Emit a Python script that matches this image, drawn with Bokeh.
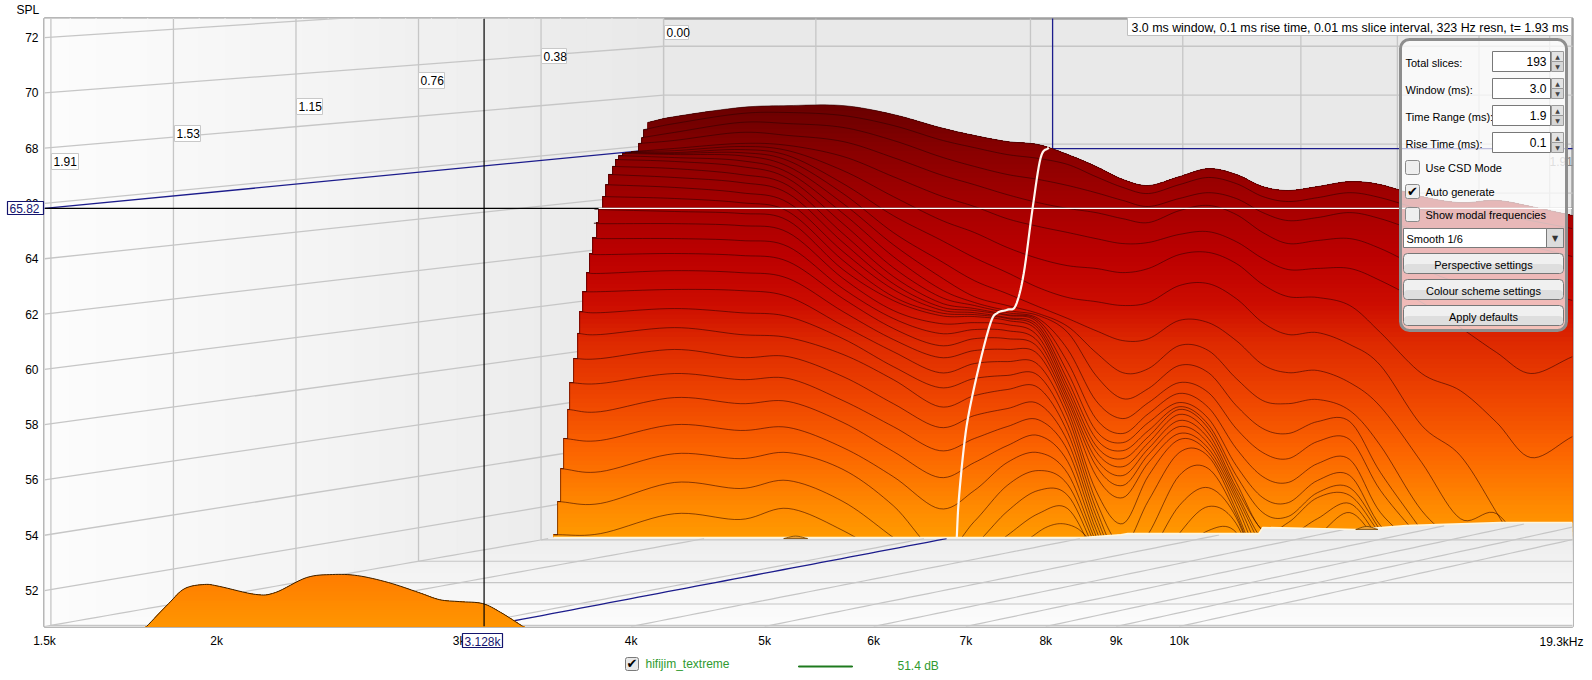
from bokeh.embed import file_html
from bokeh.layouts import column
from bokeh.models import BoxAnnotation, FixedTicker, Label, Range1d
from bokeh.plotting import figure
from bokeh.resources import INLINE
import numpy as np

# chart axes
hz_start, hz_end = 1500, 19300
db_floor, db_top = 50.70, 72.69
x_ticks = [1500, 2000, 3000, 4000, 5000, 6000, 7000, 8000, 9000, 10000]
x_tick_labels = ["1.5k", "2k", "3k", "4k", "5k", "6k", "7k", "8k", "9k", "10k"]
y_ticks = [52, 54, 56, 58, 60, 62, 64, 66, 68, 70, 72]
time_ticks = [0.00, 0.382, 0.764, 1.146, 1.528, 1.91]
t_front = 1.93
cursor_hz, cursor_db = 3128, 65.82

# slices. None where the slice has no visible line
slice_hz = [3800, 4300, 4800, 5200, 5700, 6200, 6700, 7100, 7500, 7900, 8300, 8700, 9100, 9500, 10000,
            10500, 11000, 11500, 12000, 12600, 13300, 14000, 15000, 16000, 17000, 18000, 19300]
slice_start_hz = [4112, 4084, 4071, 4050, 4030, 4003, 3983, 3963, 3943, 3917, 3897, 3878, 3852, 3833, 3814,
                  3788, 3776, 3751, 3731, 3713, 3689, 3670, 3658, 3633, 3609, 3597, 3573, 3555, 3537, 3514]
slice_start_db = [68.93, 68.67, 68.38, 68.17, 67.88, 67.88, 67.84, 67.84, 67.81, 67.73, 67.59, 67.34, 67.05, 66.68, 66.25,
                  65.82, 65.31, 64.77, 64.19, 63.50, 62.81, 62.09, 61.30, 60.39, 59.52, 58.55, 57.50, 56.41, 55.22, 54.02]
slice_01 = [None, 69.14, 69.47, 69.54, 69.54, 69.22, 68.75, 68.46, 68.24, 68.13, 67.77, 67.34, 66.87, 66.65, 66.97, 67.26, 67.05, 66.61, 66.47, 66.61, 66.79, 66.68, 66.25, 66.03, 66.11, 65.89, 65.56]
slice_02 = [None, 68.89, 69.25, 69.29, 69.18, 68.82, 68.31, 68.02, 67.77, 67.63, 67.41, 66.97, 66.58, 66.36, 66.68, 66.94, 66.72, 66.25, 66.07, 66.21, 66.39, 66.21, 65.78, 65.53, 65.60, 65.38, 65.09]
slice_03 = [None, 68.57, 68.93, 68.89, 68.75, 68.28, 67.70, 67.34, 67.05, 66.87, 66.65, 66.39, 66.11, 65.89, 66.18, 66.39, 66.18, 65.67, 65.38, 65.49, 65.67, 65.45, 64.95, 64.59, 64.66, 64.44, 64.08]
slice_04 = [None, 68.28, 68.57, 68.46, 68.24, 67.66, 67.05, 66.68, 66.32, 66.03, 65.82, 65.67, 65.45, 65.31, 65.74, 65.93, 65.60, 64.95, 64.55, 64.66, 64.73, 64.37, 63.65, 63.14, 63.14, 62.92, 62.49]
slice_05 = [None, 67.99, 68.17, 68.10, 67.70, 66.97, 66.29, 65.89, 65.45, 65.17, 64.95, 64.73, 64.55, 64.59, 64.88, 64.98, 64.62, 64.01, 63.61, 63.65, 63.65, 63.21, 62.42, 61.51, 60.61, 59.85, 60.46]
slice_06 = [None, 67.91, 68.06, 67.91, 67.19, 66.25, 65.42, 64.95, 64.41, 64.01, 63.75, 63.65, 63.50, 63.65, 64.15, 64.23, 63.83, 63.07, 62.63, 62.60, 62.31, 61.33, 59.85, 59.23, 58.08, 56.81, 57.57]
slice_07 = [None, 67.84, 67.95, 67.73, 66.72, 65.56, 64.70, 64.04, 63.50, 62.96, 62.60, 62.45, 62.31, 62.42, 63.03, 63.10, 62.56, 61.69, 61.26, 61.33, 60.90, 60.14, 57.97, 56.88, 54.82, 52.72, None]
slice_08 = [None, 67.81, 67.84, 67.55, 66.36, 64.95, 63.94, 63.21, 62.74, 62.27, 61.84, 61.40, 61.04, 61.11, 61.77, 61.69, 61.04, 60.17, 59.88, 59.96, 59.52, 58.65, 56.63, 54.60, 54.78, 53.08, None]
slice_09 = [None, 67.77, 67.73, 67.34, 66.00, 64.51, 63.36, 62.63, 62.31, 62.02, 61.55, 60.61, 59.88, 60.03, 60.86, 60.68, 59.67, 58.87, 58.76, 58.91, 58.51, 57.24, 54.89, 53.63, None, None, None]
slice_10 = [None, 67.66, 67.55, 67.12, 65.64, 64.08, 62.92, 62.42, 62.13, 61.95, 61.33, 59.78, 58.94, 59.31, 60.14, 59.88, 58.69, 57.86, 57.68, 58.11, 58.11, 56.27, 54.17, None, None, None, None]
slice_11 = [None, 67.52, 67.34, 66.90, 65.27, 63.68, 62.63, 62.31, 62.05, 61.84, 60.72, 58.87, 58.22, 58.80, 59.52, 59.16, 57.86, 56.99, 56.77, 57.39, 57.46, 55.62, 53.81, None, None, None, None]
slice_12 = [None, 67.26, 67.05, 66.65, 64.91, 63.36, 62.42, 62.20, 61.98, 61.77, 60.25, 58.22, 57.68, 58.40, 59.13, 58.62, 57.14, 56.12, 55.91, 56.59, 56.74, 54.82, 53.45, None, None, None, None]
slice_13 = [None, 66.94, 66.76, 66.36, 64.59, 63.10, 62.27, 62.13, 61.95, 61.69, 59.88, 57.79, 57.35, 58.08, 58.80, 58.22, 56.52, 55.36, 55.18, 55.98, 56.16, 54.35, 53.08, None, None, None, None]
slice_14 = [None, 66.58, 66.39, 66.03, 64.26, 62.89, 62.16, 62.05, 61.87, 61.58, 59.60, 57.50, 57.06, 57.79, 58.65, 58.00, 56.16, 54.82, 54.68, 55.54, 55.72, 54.17, None, None, None, None, None]
slice_15 = [None, 66.18, 66.03, 65.71, 63.94, 62.63, 62.05, 61.98, 61.84, 61.48, 59.38, 57.24, 56.77, 57.57, 58.55, 57.86, 55.91, 54.17, 54.46, 55.36, 55.44, 54.03, None, None, None, None, None]
slice_16 = [65.78, 65.71, 65.64, 65.38, 63.61, 62.49, 61.95, 61.91, 61.77, 61.37, 59.20, 57.03, 56.48, 57.35, 58.37, 57.68, 55.72, 54.17, 53.99, 54.60, 55.15, 53.81, None, None, None, None, None]
slice_17 = [65.27, 65.27, 65.20, 64.95, 63.29, 62.13, 61.66, 61.69, 61.62, 61.19, 59.02, 56.77, 56.16, 57.14, 58.15, 57.50, 55.58, 53.81, 53.45, 53.99, 54.82, 53.63, None, None, None, None, None]
slice_18 = [64.73, 64.73, 64.66, 64.44, 62.92, 61.84, 61.30, 61.44, 61.40, 61.00, 58.87, 56.52, 55.80, 56.92, 57.93, 57.32, 55.44, 53.45, None, None, None, None, None, None, None, None, None]
slice_19 = [64.15, 64.19, 64.12, 63.90, 62.56, 61.48, 60.86, 61.11, 61.11, 60.79, 58.69, 56.16, 55.36, 56.63, 57.68, 57.14, 55.29, 53.08, None, None, None, None, None, None, None, None, None]
slice_20 = [63.47, 63.57, 63.50, 63.29, 62.09, 61.08, 60.43, 60.68, 60.72, 60.54, 58.51, 55.62, 54.42, 56.16, 57.46, 56.99, 55.11, 52.72, None, None, None, None, None, None, None, None, None]
slice_21 = [62.81, 62.89, 62.85, 62.63, 61.58, 60.64, 59.88, 60.21, 60.28, 60.17, 58.29, 55.26, 53.63, 55.26, 56.99, 56.85, 54.89, 52.36, None, None, None, None, None, None, None, None, None]
slice_22 = [62.05, 62.20, 62.05, 61.91, 61.11, 60.10, 59.34, 59.67, 59.78, 59.78, 58.00, 54.97, 53.01, 54.06, 56.16, 56.41, 54.75, 52.18, None, None, None, None, None, None, None, None, None]
slice_23 = [61.26, 61.51, 61.26, 61.15, 60.54, 59.63, 58.65, 59.05, 59.27, 59.34, 57.71, 54.71, 52.72, 53.27, 55.07, 55.72, 54.64, 52.00, None, None, None, None, None, None, None, None, None]
slice_24 = [60.39, 60.72, 60.43, 60.46, 59.74, 58.76, 57.90, 58.33, 58.58, 58.76, 57.39, 54.46, 52.43, 52.36, 54.06, 55.04, 54.42, 52.00, None, None, None, None, None, None, None, None, None]
slice_25 = [59.49, 59.85, 59.63, 59.67, 58.87, 57.93, 57.06, 57.50, 57.93, 58.18, 57.06, 54.21, 52.18, 51.64, 53.27, 54.17, 54.10, 52.00, None, None, None, None, None, None, None, None, None]
slice_26 = [58.47, 58.98, 58.76, 58.84, 58.08, 57.03, 56.09, 56.63, 57.24, 57.61, 56.66, 53.99, 52.00, None, None, None, None, None, None, None, None, None, None, None, None, None, None]
slice_27 = [57.43, 58.00, 57.79, 57.90, 57.17, 56.12, 54.96, 55.62, 56.63, 56.99, 56.23, 53.77, 51.82, None, None, None, None, None, None, None, None, None, None, None, None, None, None]
slice_28 = [56.30, 56.95, 56.77, 56.99, 56.38, 55.07, 53.34, 54.50, 55.80, 56.34, 55.83, 53.59, 51.64, None, None, None, None, None, None, None, None, None, None, None, None, None, None]
slice_29 = [55.15, 55.91, 55.69, 55.98, 55.22, 53.92, 52.72, 53.63, 54.86, 55.62, 55.44, 53.37, 51.46, None, None, None, None, None, None, None, None, None, None, None, None, None, None]
slice_30 = [54.06, 54.78, 54.57, 54.97, 54.17, 53.08, 52.18, 53.08, 53.99, 54.78, 54.96, 53.16, 51.28, None, None, None, None, None, None, None, None, None, None, None, None, None, None]
all_slices = [slice_01, slice_02, slice_03, slice_04, slice_05, slice_06, slice_07, slice_08, slice_09, slice_10,
              slice_11, slice_12, slice_13, slice_14, slice_15, slice_16, slice_17, slice_18, slice_19, slice_20,
              slice_21, slice_22, slice_23, slice_24, slice_25, slice_26, slice_27, slice_28, slice_29, slice_30]

# small humps of the next slice poking out of the floor
bump_1_hz, bump_1_db = [5162, 5266, 5373], [53.88, 53.97, 53.88]
bump_2_hz, bump_2_db = [7802, 8000, 8203, 8412, 8582], [53.92, 54.28, 54.42, 54.28, 53.92]
bump_3_hz, bump_3_db = [13433, 13684, 13939], [54.21, 54.32, 54.21]

# where the waterfall meets the floor
base_hz = [3514, 8524, 8700, 9070, 9176, 11424, 11500, 13433, 14630, 17120, 19300]
base_db = [53.92, 53.92, 53.95, 54.02, 54.06, 54.06, 54.28, 54.21, 54.35, 54.46, 54.46]

# the last slice, in front
front_hz = [1776, 1846, 1896, 1960, 2010, 2135, 2207, 2325, 2428, 2532, 2666, 2804, 2904, 3003, 3120, 3216, 3348]
front_db = [50.66, 51.53, 52.07, 52.22, 52.15, 51.86, 51.93, 52.47, 52.58, 52.54, 52.29, 51.93, 51.67, 51.60, 51.53, 51.21, 50.66]

# white trace of the cursor frequency through the slices
trace_hz = [8040, 7933, 7827, 7711, 7608, 7507, 7383, 7296, 7152, 7034, 6976, 6917, 6894]
trace_db = [68.02, 67.66, 65.85, 63.47, 62.31, 62.16, 62.05, 61.69, 60.07, 58.40, 57.17, 55.26, 53.92]

# colours, low level first
colour_db = [53.92, 55.26, 57.06, 58.87, 61.04, 62.49, 64.30, 65.85, 67.91, 69.54]
colour_rgb = [(255, 156, 0), (255, 136, 0), (252, 102, 0), (240, 72, 0), (222, 42, 0), (204, 12, 0), (187, 0, 0), (168, 0, 0), (138, 0, 0), (107, 0, 0)]
front_colour_db = [50.70, 52.60]
front_colour_rgb = [(255, 150, 0), (255, 125, 0)]


def project(hz, db, t):
    # slice perspective, t=0 at the back wall and t_front on the axes plane
    hz, db, t = np.broadcast_arrays(np.asarray(hz, float), np.asarray(db, float), np.asarray(t, float))
    k = 1 - t / t_front
    s = 0.885 + 0.115 * t / t_front
    return hz_start * 10 ** (np.log10(hz / hz_start) * s + k * 0.4495), db_floor + (db - db_floor) * s + k * 3.906


def smooth(hz, db, n=10):
    # catmull-rom through the read points so lines draw round
    lx = np.log10(np.asarray(hz, float))
    ly = np.asarray(db, float)
    px = np.r_[2 * lx[0] - lx[1], lx, 2 * lx[-1] - lx[-2]]
    py = np.r_[2 * ly[0] - ly[1], ly, 2 * ly[-1] - ly[-2]]
    u = np.linspace(0, 1, n, endpoint=False)[:, None]
    def seg(p):
        a, b, c, d = p[:-3], p[1:-2], p[2:-1], p[3:]
        return (0.5 * (2 * b + (c - a) * u + (2 * a - 5 * b + 4 * c - d) * u ** 2 + (3 * b - a - 3 * c + d) * u ** 3)).T.ravel()
    return np.r_[10 ** seg(px), hz[-1]], np.r_[seg(py), db[-1]]


def hex_at(db, stops, rgb):
    vals = [np.interp(db, stops, [c[i] for c in rgb]) for i in range(3)]
    return "#%02x%02x%02x" % tuple(int(v) for v in vals)


def grey(v):
    return "#%02x%02x%02x" % (v, v, v)


def base_at(hz):
    return np.interp(np.log10(hz), np.log10(base_hz), base_db)


p = figure(width=1584, height=672, frame_width=1528, frame_height=608, output_backend="svg", toolbar_location=None,
           x_axis_type="log", x_range=Range1d(hz_start, hz_end), y_range=Range1d(db_floor, db_top),
           min_border_left=44, min_border_right=12, min_border_top=18, min_border_bottom=46, frame_align=False,
           background_fill_color="#e9e9e9", outline_line_color="#a0a0a0", outline_line_width=2.5)
p.grid.visible = False
p.xaxis.ticker = FixedTicker(ticks=x_ticks)
p.xaxis.major_label_overrides = dict(zip(x_ticks, x_tick_labels))
p.yaxis.ticker = FixedTicker(ticks=y_ticks)
for ax in (p.xaxis, p.yaxis):
    ax.axis_line_color = None
    ax.major_tick_line_color = None
    ax.minor_tick_line_color = None
    ax.major_tick_out = 0
    ax.major_tick_in = 0
    ax.major_label_text_font = "Liberation Sans"
    ax.major_label_text_font_size = "12px"
    ax.major_label_text_color = "black"
p.xaxis.major_label_standoff = 7
p.yaxis.major_label_standoff = 6

# side wall shading
wall_t = np.linspace(t_front, 0, 25)
wall_xs, wall_ys, wall_cols = [], [], []
for i in range(24):
    x0, y0 = project(hz_start, db_floor, wall_t[i])
    x1, y1 = project(hz_start, db_floor, wall_t[i + 1])
    x2, y2 = project(hz_start, 80, wall_t[i + 1])
    x3, y3 = project(hz_start, 80, wall_t[i])
    wall_xs.append([float(x0), float(x1), float(x2), float(x3)])
    wall_ys.append([float(y0), float(y1), float(y2), float(y3)])
    wall_cols.append(grey(int(253 - 20 * (i + 0.5) / 24)))
p.patches(wall_xs, wall_ys, fill_color=wall_cols, line_color=wall_cols, line_width=1)

# wall grid
grid_col = "#c6c6c6"
tt = [t_front, 0]
for db in y_ticks:
    x, y = project(hz_start, db, np.array(tt))
    p.line(x, y, color=grid_col, line_width=1.3)
    x, y = project(np.array([hz_start, 40000]), db, 0)
    p.line(x, y, color=grid_col, line_width=1.3)
for t in time_ticks:
    x, y = project(hz_start, np.array([db_floor, 80]), t)
    p.line(x, y, color=grid_col, line_width=1.3)
for hz in x_ticks:
    x, y = project(hz, np.array([db_floor, 80]), 0)
    p.line(x, y, color=grid_col, line_width=1.3)

# cursor lines behind the waterfall
blue = "#1c1c8c"
x, y = project(hz_start, cursor_db, np.array(tt))
p.line(x, y, color=blue, line_width=1.3)
x, y = project(np.array([cursor_hz, 40000]), cursor_db, 0)
p.line(x, y, color=blue, line_width=1.3)
x, y = project(cursor_hz, np.array([cursor_db, 80]), 0)
p.line(x, y, color=blue, line_width=1.3)

# waterfall fill, painted in colour bands from the top down
top_lines = smooth(np.r_[slice_start_hz[0], np.array(slice_hz[1:], float)], np.r_[slice_start_db[0], np.array(slice_01[1:], float)], 12)
step_hz, step_db = [], []
for i in range(29, 0, -1):
    step_hz += [slice_start_hz[i], slice_start_hz[i - 1]]
    step_db += [slice_start_db[i], slice_start_db[i]]
fill_hz = np.r_[step_hz, top_lines[0]]
fill_top = np.r_[step_db, top_lines[1]]
fill_base = base_at(fill_hz)
p.varea(fill_hz, fill_base, fill_top, fill_color=hex_at(69.5, colour_db, colour_rgb))
for level in np.arange(69.5, 53.8, -0.16):
    p.varea(fill_hz, fill_base, np.minimum(fill_top, level), fill_color=hex_at(level, colour_db, colour_rgb))

# slice lines
line_xs, line_ys = [], []
for i, vals in enumerate(all_slices):
    keep = [j for j, v in enumerate(vals) if v is not None]
    hz_pts = np.r_[slice_start_hz[i], np.array(slice_hz)[keep]]
    db_pts = np.r_[slice_start_db[i], np.array(vals, dtype=float)[keep]]
    sx, sy = smooth(hz_pts, db_pts)
    line_xs.append(sx)
    line_ys.append(sy)
for hz_b, db_b in [(bump_2_hz, bump_2_db)]:
    sx, sy = smooth(hz_b, db_b)
    line_xs.append(sx)
    line_ys.append(sy)
line_xs.append(np.array(step_hz))
line_ys.append(np.array(step_db))
p.multi_line(line_xs, line_ys, line_color="#2c0000", line_alpha=0.7, line_width=0.8)

# floor goes over whatever of the slices is below the base line
mask_hz = np.unique(np.r_[np.geomspace(hz_start, hz_end, 500), base_hz])
diag_t = np.linspace(t_front, 0, 40)
diag_x, diag_y = project(hz_start, db_floor, diag_t)
diag = np.interp(np.log10(mask_hz), np.log10(diag_x), diag_y)
floor_top = np.minimum(diag, base_at(mask_hz))
floor_t = np.linspace(0, t_front, 25)
for i, t in enumerate(floor_t[:-1]):
    _, level = project(hz_start, db_floor, t)
    p.varea(mask_hz, db_floor, np.minimum(floor_top, float(level)), fill_color=grey(int(235 + 18 * i / 24)))

# floor grid, stops at the base line
for hz in x_ticks:
    x, y = project(hz, db_floor, np.linspace(t_front, 0, 60))
    show = y <= base_at(x)
    p.line(x[show], y[show], color=grid_col, line_width=1.2)
for t in time_ticks + [t_front]:
    x, y = project(np.geomspace(hz_start, 40000, 200), db_floor, t)
    show = y <= base_at(x)
    p.line(x[show], y[show], color=grid_col, line_width=1.2)
x, y = project(cursor_hz, db_floor, np.linspace(t_front, 0, 60))
show = y <= base_at(x)
p.line(x[show], y[show], color=blue, line_width=1.3)

p.line(base_hz, base_db, color="#fff6dc", line_width=1.6)
for hz_b, db_b in [(bump_1_hz, bump_1_db), (bump_3_hz, bump_3_db)]:
    sx, sy = smooth(hz_b, db_b, 5)
    p.patch(sx, sy, fill_color="#eda23a", line_color="#6e4000", line_width=0.8)

# front slice
sx, sy = smooth(front_hz, front_db, 8)
for level in np.arange(52.65, db_floor, -0.08):
    p.varea(sx, db_floor, np.minimum(sy, level), fill_color=hex_at(level, front_colour_db, front_colour_rgb))
p.line(sx, sy, color="#3a2000", line_width=1)

# cross hair, white where it runs over the waterfall
p.line([hz_start, hz_end], [cursor_db, cursor_db], color="black", line_width=1.2)
p.line([cursor_hz, cursor_hz], [db_floor, db_top], color="black", line_width=1.2)
sx, sy = smooth(trace_hz[::-1], trace_db[::-1], 8)
p.line([slice_start_hz[15], hz_end], [cursor_db, cursor_db], color="white", line_width=1.2)
p.line(sx, sy, color="#fff6ee", line_width=2.2)

# annotations get clipped to a figure's frame, so the program's chrome sits in a
# see-through figure laid over the chart, its frame is the whole page
hud = figure(width=1584, height=672, output_backend="svg", toolbar_location=None,
             x_axis_location=None, y_axis_location=None, x_range=Range1d(0, 1584), y_range=Range1d(672, 0),
             min_border=0, frame_align=False, background_fill_color=None, border_fill_color=None,
             outline_line_color=None, margin=(-672, 0, 0, 0))
hud.grid.visible = False


def box(left, right, top, bottom, fill="white", alpha=1.0, line="#c8c8c8", width=1.0, radius=0):
    hud.add_layout(BoxAnnotation(left=left, right=right, top=top, bottom=bottom,
                                 left_units="canvas", right_units="canvas", top_units="canvas", bottom_units="canvas",
                                 fill_color=fill, fill_alpha=alpha, line_color=line, line_alpha=1.0, line_width=width,
                                 border_radius=radius))


def text(x, y, s, size="11px", color="black", align="left", font="Liberation Sans"):
    hud.add_layout(Label(x=x, y=y, x_units="canvas", y_units="canvas", text=s, text_font=font, text_font_size=size,
                         text_color=color, text_align=align, text_baseline="middle"))


# slice time tags
time_tags = [(51, 78, 153, 169, "1.91"), (174, 200, 125, 141, "1.53"), (296, 322, 98, 114, "1.15"),
             (418, 444, 72, 88, "0.76"), (541, 566, 48, 63, "0.38"), (664, 688, 25, 39, "0.00")]
for l, r, t, b, s in time_tags:
    box(l, r, t, b)
    text(l + 2, (t + b) / 2, s, size="12px")

# faint t label on the right end, panel goes over it
text(1549, 161, "1.91", size="12px", color="#8a8a8a")

# readouts
box(1127, 1571, 17, 35, line="#c0c0c0")
text(1131, 27, "3.0 ms window, 0.1 ms rise time, 0.01 ms slice interval, 323 Hz resn, t= 1.93 ms", size="12.4px")
box(7, 43, 201, 214, line="#14146e", width=1.2)
text(9, 208, "65.82", size="12px", color="#14146e")
box(462, 502, 633, 647, line="#14146e", width=1.2)
text(482, 641, "3.128k", size="12px", color="#14146e", align="center")
text(16, 9, "SPL", size="12px")
text(1583, 641, "19.3kHz", size="12px", align="right")

# settings panel
box(1400, 1566, 39, 330, alpha=0.72, line="#8e8e8e", width=3, radius=9)
for y, label, value in [(62, "Total slices:", "193"), (89, "Window (ms):", "3.0"), (116, "Time Range (ms):", "1.9"), (143, "Rise Time (ms):", "0.1")]:
    text(1405, y, label)
    box(1492, 1550, y - 11, y + 9, line="#787878")
    text(1546, y - 1, value, size="12px", align="right")
    box(1551, 1563, y - 11, y - 1, fill="#e4e4e4", line="#9a9a9a")
    box(1551, 1563, y - 1, y + 9, fill="#d6d6d6", line="#9a9a9a")
    text(1557, y - 6, "\u25b2", size="6px", color="#444444", align="center", font="DejaVu Sans")
    text(1557, y + 4, "\u25bc", size="6px", color="#444444", align="center", font="DejaVu Sans")
for y, label, ticked in [(167, "Use CSD Mode", False), (191, "Auto generate", True), (214, "Show modal frequencies", False)]:
    box(1405, 1419, y - 7, y + 7, fill="#eeeeee", line="#8a8a8a", radius=2)
    if ticked:
        text(1412, y, "\u2714", size="13px", align="center", font="DejaVu Sans")
    text(1425, y, label)
box(1403, 1563, 228, 247, line="#7a7a7a")
box(1546, 1563, 228, 247, fill="#dcdcdc", line="#7a7a7a")
text(1554.5, 238, "\u25bc", size="8px", color="#333333", align="center", font="DejaVu Sans")
text(1406, 238, "Smooth 1/6")
for y, label in [(253, "Perspective settings"), (279, "Colour scheme settings"), (305, "Apply defaults")]:
    box(1403, 1563, y, y + 20, fill="#f0f0f0", line="#777777", radius=4)
    box(1404, 1562, y + 11, y + 19, fill="#dedede", line="#dedede", radius=3)
    text(1483, y + 11, label, align="center")

# legend row under the axis
box(625, 638, 657, 670, fill="#e8e8e8", line="#7a7a7a", radius=2)
text(631.5, 663, "\u2714", size="13px", align="center", font="DejaVu Sans")
text(645, 663, "hifijim_textreme", size="12px", color="#2f9a2f")
box(798, 852, 665.5, 666.5, fill="#1f7a1f", line="#1f7a1f", width=1)
text(897, 665, "51.4 dB", size="12px", color="#2f9a2f")

open("out.html", "w").write(file_html(column(p, hud), INLINE))
